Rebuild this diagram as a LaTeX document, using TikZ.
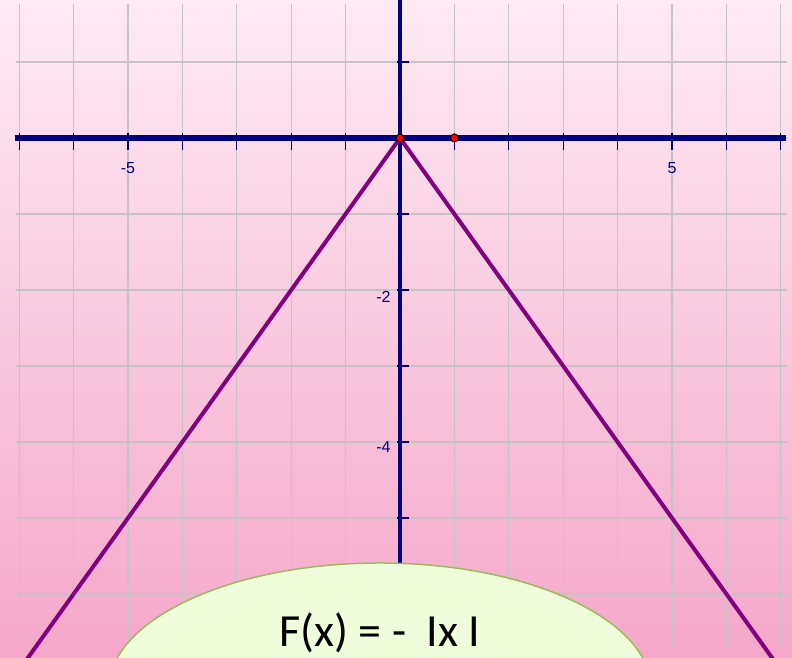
\documentclass[tikz,border=0pt]{standalone}
\usepackage{fontspec}
\setmainfont{Liberation Sans}
\newfontfamily\calibri{Carlito}
\usetikzlibrary{shapes.geometric}

\definecolor{pinkTop}{HTML}{FDEBF3}
\definecolor{pinkBottom}{HTML}{F5A7CA}
\definecolor{axisBlue}{HTML}{000080}
\definecolor{graphPurple}{HTML}{800080}
\definecolor{bubbleFill}{HTML}{EFFDDB}
\definecolor{bubbleEdge}{HTML}{9BBB59}
\definecolor{gridGray}{HTML}{C4C4C4}

\begin{document}
\begin{tikzpicture}[
    x=54.4pt, y=76pt,
    gridLine/.style={
        draw=gridGray,
        line width=1.2pt
    },
    xAxisLine/.style={
        draw=axisBlue,
        line width=5.5pt
    },
    yAxisLine/.style={
        draw=axisBlue,
        line width=3.2pt
    },
    tickMark/.style={
        draw=axisBlue,
        line width=1.3pt
    },
    tickLabel/.style={
        text=axisBlue,
        inner sep=0pt,
        font=\fontsize{16pt}{18pt}\selectfont
    },
    graphLine/.style={
        draw=graphPurple,
        line width=4pt,
        line join=miter
    },
    pointDot/.style={
        circle,
        fill=red,
        draw=black,
        line width=0.9pt,
        inner sep=0pt,
        minimum size=8pt
    },
    bubble/.style={
        ellipse,
        fill=bubbleFill,
        draw=bubbleEdge,
        line width=1.5pt,
        inner sep=0pt,
        minimum width=544pt,
        minimum height=256pt
    },
    formula/.style={
        inner sep=0pt,
        font=\calibri\fontsize{46pt}{52pt}\selectfont
    }
]

% ==================== PAGE & BACKGROUND ====================
\def\xMin{-7.353}
\def\xMax{7.206}
\def\yMin{-6.829}
\def\yMax{1.816}
\useasboundingbox (\xMin,\yMin) rectangle (\xMax,\yMax);
\clip (\xMin,\yMin) rectangle (\xMax,\yMax);
\shade[top color=pinkTop, bottom color=pinkBottom] (\xMin,\yMin) rectangle (\xMax,\yMax);

% ==================== GRID ====================
\foreach \gx in {-7,...,7}
    \draw[gridLine] (\gx,-6.71) -- (\gx,1.76);
\foreach \gy in {-6,...,1}
    \draw[gridLine] (-7.05,\gy) -- (7.11,\gy);

% ==================== AXES ====================
\draw[yAxisLine] (0,-6.2) -- (0,\yMax);
\draw[xAxisLine] (-7.08,0) -- (7.09,0);

% Ticks
\foreach \tx in {-7,...,-1,1,2,...,7}
    \draw[tickMark] (\tx,0.07) -- (\tx,-0.155);
\foreach \ty in {-6,...,-1,1}
    \draw[tickMark] (-0.055,\ty) -- (0.165,\ty);

% Tick labels
\node[tickLabel] (lblXm5) at (-5,-0.395) {-5};
\node[tickLabel] (lblX5) at (5,-0.395) {5};
\node[tickLabel, anchor=east] (lblYm2) at (-0.17,-2.09) {-2};
\node[tickLabel, anchor=east] (lblYm4) at (-0.17,-4.06) {-4};

% ==================== GRAPH ====================
\draw[graphLine] (-6.9,-6.9) -- (0,0) -- (6.9,-6.9);

\node[pointDot] (origin) at (0,0) {};
\node[pointDot] (unitPt) at (1,0) {};

% ==================== FORMULA BUBBLE ====================
\node[bubble] (bubble) at (-0.368,-7.276) {};
\node[formula, anchor=base] (formulaText) at ([yshift=-84pt]bubble.north) {F(x) = -\ \ Ix I};

\end{tikzpicture}
\end{document}
